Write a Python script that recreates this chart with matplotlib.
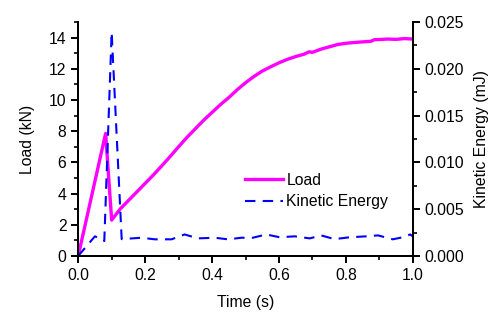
import matplotlib
matplotlib.use("Agg")
import matplotlib.pyplot as plt
from matplotlib.ticker import MultipleLocator, FormatStrFormatter

plt.rcParams['font.family'] = ['Liberation Sans', 'DejaVu Sans']

# Load (kN) vs time (s)
load_t = [0.0, 0.082, 0.100, 0.125, 0.15, 0.175, 0.2, 0.225, 0.25, 0.275, 0.3, 0.325,
          0.35, 0.375, 0.4, 0.425, 0.45, 0.475, 0.5, 0.525, 0.55, 0.575, 0.6, 0.625,
          0.65, 0.675, 0.69, 0.70, 0.725, 0.75, 0.775, 0.8, 0.825, 0.85, 0.875, 0.885,
          0.9, 0.925, 0.95, 0.975, 1.0]
load_v = [0.0, 7.85, 2.3, 3.0, 3.55, 4.1, 4.65, 5.2, 5.78, 6.38, 7.0, 7.6,
          8.15, 8.7, 9.2, 9.7, 10.15, 10.65, 11.1, 11.5, 11.85, 12.12, 12.38, 12.6,
          12.78, 12.93, 13.08, 13.05, 13.25, 13.4, 13.55, 13.63, 13.68, 13.72, 13.76, 13.86,
          13.87, 13.9, 13.88, 13.93, 13.9]

# Kinetic energy (mJ) vs time (s)
ke_t = [0.0, 0.05, 0.078, 0.100, 0.130, 0.189, 0.229, 0.279, 0.318, 0.358, 0.408,
        0.448, 0.488, 0.522, 0.562, 0.602, 0.647, 0.692, 0.726, 0.766, 0.811, 0.861,
        0.896, 0.940, 0.970, 0.992, 1.0]
ke_v = [0.0, 0.0021, 0.0016, 0.0239, 0.0018, 0.00195, 0.00178, 0.00178, 0.0023, 0.00188, 0.00195,
        0.00178, 0.00195, 0.00195, 0.0023, 0.0020, 0.0021, 0.00188, 0.0022, 0.0018, 0.0020, 0.0021,
        0.0022, 0.00178, 0.0020, 0.0023, 0.0021]

FS = 11.3

fig = plt.figure(figsize=(4.98, 3.22), dpi=100)
ax = fig.add_subplot(111)
fig.subplots_adjust(left=0.157, right=0.829, bottom=0.205, top=0.932)
ax2 = ax.twinx()

l1, = ax.plot(load_t, load_v, color='#FF00FF', lw=2.4, label='Load')
l2, = ax2.plot(ke_t, ke_v, color='#0000FF', lw=1.5, ls=(0, (5, 3.5)), label='Kinetic Energy')

ax.set_xlim(0, 1.0)
ax.set_ylim(0, 15)
ax2.set_ylim(0, 0.025)

ax.xaxis.set_major_locator(MultipleLocator(0.2))
ax.xaxis.set_minor_locator(MultipleLocator(0.1))
ax.yaxis.set_major_locator(MultipleLocator(2))
ax.yaxis.set_minor_locator(MultipleLocator(1))
ax2.yaxis.set_major_locator(MultipleLocator(0.005))
ax2.yaxis.set_minor_locator(MultipleLocator(0.0025))
ax.xaxis.set_major_formatter(FormatStrFormatter('%.1f'))
ax2.yaxis.set_major_formatter(FormatStrFormatter('%.3f'))

for a in (ax, ax2):
    a.spines['top'].set_visible(False)
    for s in a.spines.values():
        s.set_linewidth(1.4)
    a.tick_params(which='major', direction='out', length=5, width=1.4, labelsize=FS, pad=3.5)
    a.tick_params(which='minor', direction='out', length=3, width=1.2)
ax.tick_params(axis='y', which='both', right=False)

ax.set_xlabel('Time (s)', fontsize=FS, labelpad=9)
ax.set_ylabel('Load (kN)', fontsize=FS, labelpad=10)
ax2.set_ylabel('Kinetic Energy (mJ)', fontsize=FS, labelpad=7)

ax2.legend([l1, l2], ['Load', 'Kinetic Energy'], loc='center left',
           bbox_to_anchor=(0.498, 0.278), frameon=False, fontsize=FS,
           handlelength=2.45, handletextpad=0.2, labelspacing=0.4,
           borderpad=0, borderaxespad=0)

fig.savefig('out.png', dpi=100)
